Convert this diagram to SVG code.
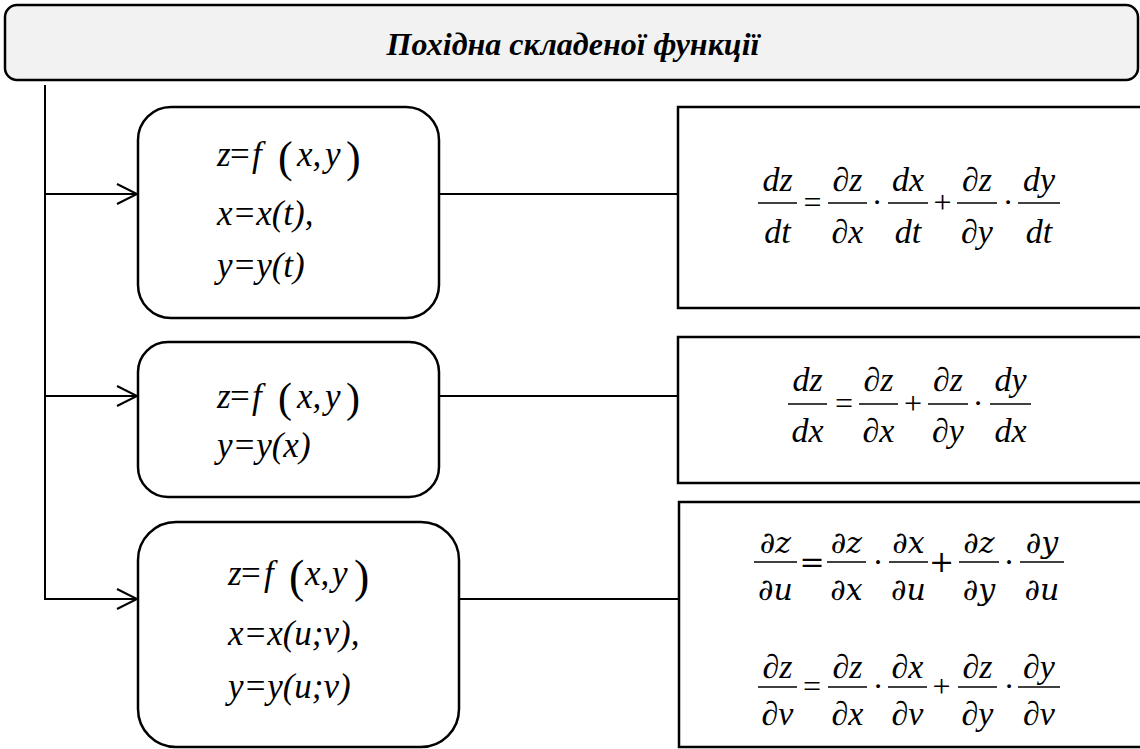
<svg xmlns="http://www.w3.org/2000/svg" width="1140" height="749" viewBox="0 0 1140 749">
<rect width="1140" height="749" fill="#fff"/>
<g id="title">
<rect x="5" y="5" width="1133" height="75" rx="12" fill="#f2f2f2" stroke="#000" stroke-width="2.5"/>
</g>
<text x="573" y="55" text-anchor="middle" font-family="Liberation Serif" font-style="italic" font-weight="bold" font-size="32">Похідна складеної функції</text>

<g id="connectors" fill="none" stroke="#000" stroke-width="2">
<line x1="45" y1="85" x2="45" y2="600"/>
<line x1="44" y1="194" x2="137" y2="194"/>
<polyline points="117,184 137,194 117,204"/>
<line x1="44" y1="396" x2="137" y2="396"/>
<polyline points="117,386 137,396 117,406"/>
<line x1="44" y1="599" x2="137" y2="599"/>
<polyline points="117,589 137,599 117,609"/>
<line x1="439" y1="194" x2="678" y2="194"/>
<line x1="439" y1="396" x2="678" y2="396"/>
<line x1="459" y1="599" x2="679" y2="599"/>
</g>

<g id="node1">
<rect x="138" y="107" width="301" height="211" rx="33" fill="#fff" stroke="#000" stroke-width="2.5"/>
<text x="217" y="166" font-family="Liberation Serif" font-style="italic" font-size="35">z</text>
<text x="230" y="166" font-family="Liberation Serif" font-size="35">=</text>
<text x="252" y="166" font-family="Liberation Serif" font-style="italic" font-size="35">f</text>
<text x="278" y="172" font-family="Liberation Serif" font-size="44">(</text>
<text x="297" y="166" font-family="Liberation Serif" font-style="italic" font-size="35">x,</text>
<text x="325" y="166" font-family="Liberation Serif" font-style="italic" font-size="35">y</text>
<text x="346" y="172" font-family="Liberation Serif" font-size="44">)</text>
<text x="217" y="225" font-family="Liberation Serif" font-style="italic" font-size="35">x=x(t),</text>
<text x="217" y="277" font-family="Liberation Serif" font-style="italic" font-size="35">y=y(t)</text>
</g>

<g>
<rect x="138" y="342" width="301" height="155" rx="30" fill="#fff" stroke="#000" stroke-width="2.5"/>
<text x="217" y="408" font-family="Liberation Serif" font-style="italic" font-size="35">z</text>
<text x="230" y="408" font-family="Liberation Serif" font-size="35">=</text>
<text x="252" y="408" font-family="Liberation Serif" font-style="italic" font-size="35">f</text>
<text x="278" y="412" font-family="Liberation Serif" font-size="42">(</text>
<text x="297" y="408" font-family="Liberation Serif" font-style="italic" font-size="35">x,</text>
<text x="325" y="408" font-family="Liberation Serif" font-style="italic" font-size="35">y</text>
<text x="346" y="412" font-family="Liberation Serif" font-size="42">)</text>
<text x="217" y="457" font-family="Liberation Serif" font-style="italic" font-size="35">y=y(x)</text>
</g>

<g id="node3">
<rect x="138" y="522" width="321" height="225" rx="38" fill="#fff" stroke="#000" stroke-width="2.5"/>
<text x="228" y="585" font-family="Times New Roman" font-style="italic" font-size="35">z</text>
<text x="241" y="585" font-family="Times New Roman" font-size="35">=</text>
<text x="264" y="585" font-family="Times New Roman" font-style="italic" font-size="35">f</text>
<text x="289" y="592" font-family="Times New Roman" font-size="46">(</text>
<text x="305" y="585" font-family="Times New Roman" font-style="italic" font-size="35">x,</text>
<text x="332" y="585" font-family="Times New Roman" font-style="italic" font-size="35">y</text>
<text x="354" y="592" font-family="Times New Roman" font-size="46">)</text>
<text x="228" y="645" font-family="Times New Roman" font-style="italic" font-size="35">x=x(u;v),</text>
<text x="228" y="698" font-family="Times New Roman" font-style="italic" font-size="35">y=y(u;v)</text>
</g>

<g id="formula1">
<rect x="678" y="107" width="480" height="201" fill="#fff" stroke="#000" stroke-width="2.5"/>
<g stroke="#000" stroke-width="1.5">
<line x1="758" y1="203" x2="797" y2="203"/>
<line x1="828" y1="203" x2="867" y2="203"/>
<line x1="888" y1="203" x2="928" y2="203"/>
<line x1="957" y1="203" x2="997" y2="203"/>
<line x1="1018" y1="203" x2="1060" y2="203"/>
</g>
<text x="777.5" y="191" style="font-family:'Liberation Serif';font-style:italic;font-size:34px;text-anchor:middle">dz</text>
<text x="777.5" y="243" style="font-family:'Liberation Serif';font-style:italic;font-size:34px;text-anchor:middle">dt</text>
<text x="812.5" y="213" style="font-family:'Liberation Serif';font-size:32px;text-anchor:middle">=</text>
<text x="847.5" y="191" style="font-family:'Liberation Serif';font-style:italic;font-size:34px;text-anchor:middle">∂z</text>
<text x="847.5" y="243" style="font-family:'Liberation Serif';font-style:italic;font-size:34px;text-anchor:middle">∂x</text>
<text x="877" y="213" style="font-family:'Liberation Serif';font-size:32px;text-anchor:middle">·</text>
<text x="908" y="191" style="font-family:'Liberation Serif';font-style:italic;font-size:34px;text-anchor:middle">dx</text>
<text x="908" y="243" style="font-family:'Liberation Serif';font-style:italic;font-size:34px;text-anchor:middle">dt</text>
<text x="942.5" y="213" style="font-family:'Liberation Serif';font-size:32px;text-anchor:middle">+</text>
<text x="977" y="191" style="font-family:'Liberation Serif';font-style:italic;font-size:34px;text-anchor:middle">∂z</text>
<text x="977" y="243" style="font-family:'Liberation Serif';font-style:italic;font-size:34px;text-anchor:middle">∂y</text>
<text x="1008" y="213" style="font-family:'Liberation Serif';font-size:32px;text-anchor:middle">·</text>
<text x="1039" y="191" style="font-family:'Liberation Serif';font-style:italic;font-size:34px;text-anchor:middle">dy</text>
<text x="1039" y="243" style="font-family:'Liberation Serif';font-style:italic;font-size:34px;text-anchor:middle">dt</text>
</g>

<g id="formula2" text-anchor="middle">
<rect x="678" y="337" width="480" height="146" fill="#fff" stroke="#000" stroke-width="2.5"/>
<g stroke="#000" stroke-width="1.5">
<line x1="788" y1="404" x2="827" y2="404"/>
<line x1="859" y1="404" x2="898" y2="404"/>
<line x1="928" y1="404" x2="968" y2="404"/>
<line x1="990" y1="404" x2="1031" y2="404"/>
</g>
<text x="807.5" y="391" font-family="serif" font-style="italic" font-size="34">dz</text>
<text x="807.5" y="442" font-family="serif" font-style="italic" font-size="34">dx</text>
<text x="844" y="414" font-family="serif" font-size="32">=</text>
<text x="878.5" y="391" font-family="serif" font-style="italic" font-size="34">∂z</text>
<text x="878.5" y="442" font-family="serif" font-style="italic" font-size="34">∂x</text>
<text x="913" y="414" font-family="serif" font-size="32">+</text>
<text x="948" y="391" font-family="serif" font-style="italic" font-size="34">∂z</text>
<text x="948" y="442" font-family="serif" font-style="italic" font-size="34">∂y</text>
<text x="978" y="414" font-family="serif" font-size="32">·</text>
<text x="1010.5" y="391" font-family="serif" font-style="italic" font-size="34">dy</text>
<text x="1010.5" y="442" font-family="serif" font-style="italic" font-size="34">dx</text>
</g>

<g id="formula3" text-anchor="middle">
<rect x="679" y="502" width="480" height="245" fill="#fff" stroke="#000" stroke-width="2.5"/>
<g stroke="#000" stroke-width="1.5">
<line x1="754" y1="562" x2="797" y2="562"/>
<line x1="827" y1="562" x2="866" y2="562"/>
<line x1="889" y1="562" x2="928" y2="562"/>
<line x1="959" y1="562" x2="999" y2="562"/>
<line x1="1020" y1="562" x2="1064" y2="562"/>
<line x1="758" y1="687" x2="797" y2="687"/>
<line x1="828" y1="687" x2="867" y2="687"/>
<line x1="888" y1="687" x2="927" y2="687"/>
<line x1="958" y1="687" x2="997" y2="687"/>
<line x1="1018" y1="687" x2="1060" y2="687"/>
</g>
<text x="775.5" y="553" font-family="DejaVu Serif" font-style="italic" font-size="30">∂z</text>
<text x="775.5" y="600" font-family="DejaVu Serif" font-style="italic" font-size="30">∂u</text>
<text x="812" y="572" font-family="DejaVu Serif" font-size="30">=</text>
<text x="846.5" y="553" font-family="DejaVu Serif" font-style="italic" font-size="30">∂z</text>
<text x="846.5" y="600" font-family="DejaVu Serif" font-style="italic" font-size="30">∂x</text>
<text x="878" y="572" font-family="DejaVu Serif" font-size="30">·</text>
<text x="908.5" y="553" font-family="DejaVu Serif" font-style="italic" font-size="30">∂x</text>
<text x="908.5" y="600" font-family="DejaVu Serif" font-style="italic" font-size="30">∂u</text>
<text x="941.5" y="572" font-family="DejaVu Serif" font-size="30">+</text>
<text x="979" y="553" font-family="DejaVu Serif" font-style="italic" font-size="30">∂z</text>
<text x="979" y="600" font-family="DejaVu Serif" font-style="italic" font-size="30">∂y</text>
<text x="1009" y="572" font-family="DejaVu Serif" font-size="30">·</text>
<text x="1042" y="553" font-family="DejaVu Serif" font-style="italic" font-size="30">∂y</text>
<text x="1042" y="600" font-family="DejaVu Serif" font-style="italic" font-size="30">∂u</text>
<text x="777.5" y="678" font-family="Liberation Serif" font-style="italic" font-size="34">∂z</text>
<text x="777.5" y="725" font-family="Liberation Serif" font-style="italic" font-size="34">∂v</text>
<text x="812" y="697" font-family="Liberation Serif" font-size="32">=</text>
<text x="847.5" y="678" font-family="Liberation Serif" font-style="italic" font-size="34">∂z</text>
<text x="847.5" y="725" font-family="Liberation Serif" font-style="italic" font-size="34">∂x</text>
<text x="878" y="697" font-family="Liberation Serif" font-size="32">·</text>
<text x="907.5" y="678" font-family="Liberation Serif" font-style="italic" font-size="34">∂x</text>
<text x="907.5" y="725" font-family="Liberation Serif" font-style="italic" font-size="34">∂v</text>
<text x="941.5" y="697" font-family="Liberation Serif" font-size="32">+</text>
<text x="977.5" y="678" font-family="Liberation Serif" font-style="italic" font-size="34">∂z</text>
<text x="977.5" y="725" font-family="Liberation Serif" font-style="italic" font-size="34">∂y</text>
<text x="1009" y="697" font-family="Liberation Serif" font-size="32">·</text>
<text x="1039" y="678" font-family="Liberation Serif" font-style="italic" font-size="34">∂y</text>
<text x="1039" y="725" font-family="Liberation Serif" font-style="italic" font-size="34">∂v</text>
</g>
</svg>
